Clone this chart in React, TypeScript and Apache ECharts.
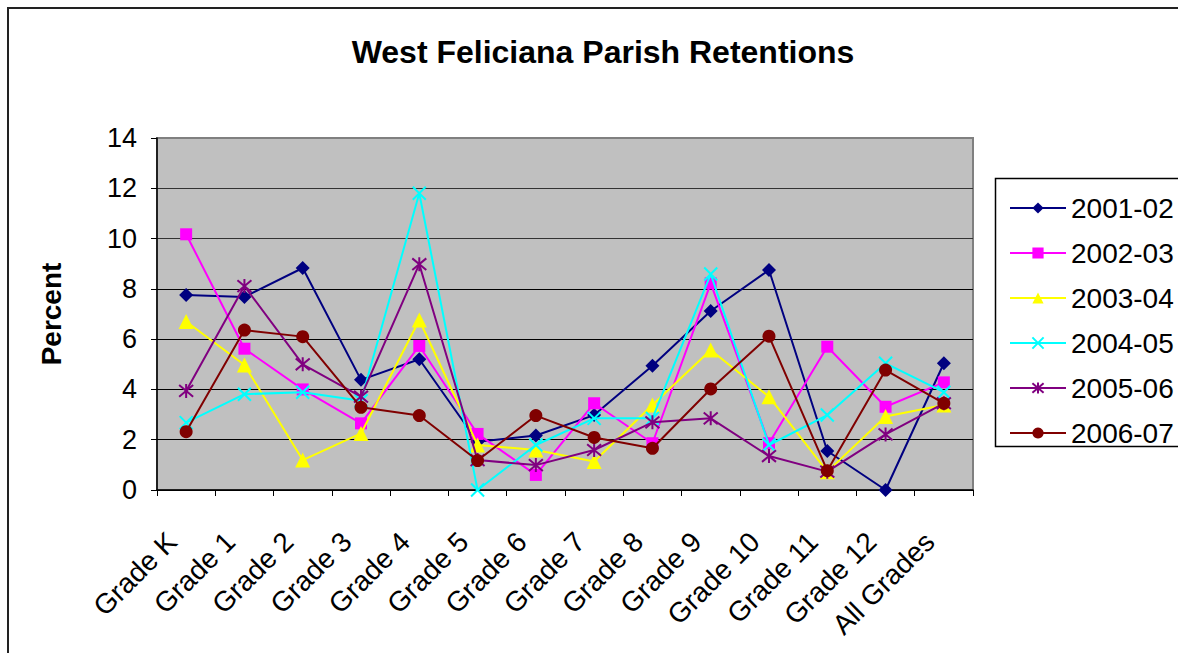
import React, { useEffect, useRef } from "react";
import * as echarts from "echarts";

const categories = [
  "Grade K", "Grade 1", "Grade 2", "Grade 3", "Grade 4", "Grade 5", "Grade 6",
  "Grade 7", "Grade 8", "Grade 9", "Grade 10", "Grade 11", "Grade 12", "All Grades",
];
const yTicks = [0, 2, 4, 6, 8, 10, 12, 14];

const y2001_02 = [7.76, 7.68, 8.83, 4.38, 5.2, 1.92, 2.17, 2.98, 4.94, 7.12, 8.75, 1.55, 0, 5.04];
const y2002_03 = [10.17, 5.62, 4.0, 2.65, 5.73, 2.23, 0.6, 3.45, 1.86, 8.22, 1.86, 5.7, 3.31, 4.28];
const y2003_04 = [6.7, 4.97, 1.19, 2.25, 6.76, 1.79, 1.59, 1.13, 3.38, 5.57, 3.71, 0.73, 2.92, 3.38];
const y2004_05 = [2.68, 3.81, 3.89, 3.55, 11.8, 0.0, 1.79, 2.85, 2.85, 8.59, 1.79, 2.98, 5.04, 3.89];
const y2005_06 = [3.94, 8.11, 5.0, 3.71, 8.98, 1.19, 0.99, 1.59, 2.69, 2.85, 1.35, 0.73, 2.21, 3.45];
const y2006_07 = [2.32, 6.36, 6.1, 3.29, 2.96, 1.17, 2.96, 2.09, 1.66, 4.02, 6.12, 0.77, 4.77, 3.45];

const seriesNames = ["2001-02", "2002-03", "2003-04", "2004-05", "2005-06", "2006-07"];
const seriesData = [y2001_02, y2002_03, y2003_04, y2004_05, y2005_06, y2006_07];
const seriesColors = ["#000080", "#FF00FF", "#FFFF00", "#00FFFF", "#800080", "#800000"];
const seriesSymbols = [
  "diamond",
  "rect",
  "triangle",
  "path://M0,0L10,10M10,0L0,10",
  "path://M0,0L10,10M10,0L0,10M5,-1L5,11",
  "circle",
];
const symbolSizes = [14, 12, 15, 13, 14, 13];

const FONT = "'Liberation Sans', Arial, sans-serif";

export default function App() {
  const ref = useRef<HTMLDivElement>(null);

  useEffect(() => {
    document.body.style.margin = "0";
    if (!ref.current) return;
    const chart = echarts.init(ref.current, undefined, { renderer: "svg" });
    const option: any = {
      animation: false,
      backgroundColor: "#ffffff",
      textStyle: { fontFamily: FONT },
      title: {
        text: "West Feliciana Parish Retentions",
        left: 598,
        textAlign: "center",
        top: 31,
        textStyle: { fontFamily: FONT, fontSize: 32, fontWeight: "bold", color: "#000" },
      },
      grid: {
        left: 157,
        top: 138,
        width: 816,
        height: 352,
        show: true,
        backgroundColor: "#C0C0C0",
        borderColor: "#808080",
        borderWidth: 2,
      },
      legend: {
        orient: "vertical",
        left: 1004,
        top: 187,
        itemWidth: 56,
        itemHeight: 14,
        itemGap: 13,
        data: seriesNames,
        textStyle: { fontFamily: FONT, fontSize: 28, color: "#000", lineHeight: 32 },
      },
      xAxis: {
        type: "category",
        data: categories,
        boundaryGap: true,
        axisLine: { show: true, lineStyle: { color: "#000", width: 1.5 } },
        axisTick: { show: true, length: 6, lineStyle: { color: "#000" } },
        axisLabel: {
          rotate: 45,
          fontSize: 28,
          color: "#000",
          fontFamily: FONT,
          margin: 33,
          interval: 0,
          padding: [0, 20, 17, 0],
        },
        splitLine: { show: false },
      },
      yAxis: {
        type: "value",
        min: 0,
        max: 14,
        interval: 2,
        name: "Percent",
        nameLocation: "middle",
        nameRotate: 90,
        nameGap: 92,
        nameTextStyle: { fontFamily: FONT, fontSize: 28, fontWeight: "bold", color: "#000" },
        axisLine: { show: true, lineStyle: { color: "#000", width: 1.5 } },
        axisTick: { show: true, length: 6, inside: false, lineStyle: { color: "#000" } },
        axisLabel: {
          fontSize: 27,
          color: "#000",
          fontFamily: FONT,
          margin: 20,
          formatter: (v: number) => (yTicks.includes(v) ? String(v) : ""),
        },
        splitLine: {
          show: true,
          lineStyle: {
            color: ["#000", "#000", "#000", "#000", "#000", "#333", "#333", "#808080"],
            width: 1,
          },
        },
      },
      series: seriesNames.map((name, i) => ({
        name,
        type: "line",
        data: seriesData[i],
        symbol: seriesSymbols[i],
        symbolSize: symbolSizes[i],
        showAllSymbol: true,
        lineStyle: { color: seriesColors[i], width: 2 },
        itemStyle: {
          color: seriesColors[i],
          borderColor: seriesColors[i],
          borderWidth: i === 3 || i === 4 ? 2 : 0,
          opacity: 1,
        },
        emphasis: { disabled: true },
        z: 2 + i,
      })),
      graphic: [
        {
          type: "rect",
          shape: { x: 8, y: 8, width: 1185, height: 660 },
          style: { fill: "none", stroke: "#222", lineWidth: 2 },
          silent: true,
          z: 100,
        },
        {
          type: "rect",
          shape: { x: 995.5, y: 178.5, width: 200, height: 268 },
          style: { fill: "none", stroke: "#000", lineWidth: 1.5 },
          silent: true,
          z: 100,
        },
      ],
    };
    chart.setOption(option);
    return () => chart.dispose();
  }, []);

  return <div ref={ref} style={{ width: 1178, height: 653 }} />;
}
